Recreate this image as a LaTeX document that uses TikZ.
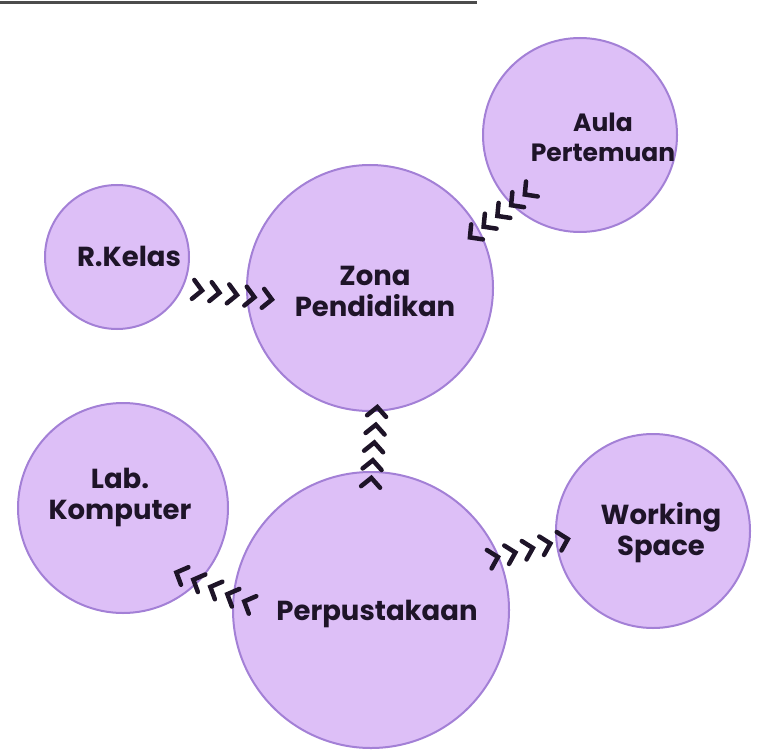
\documentclass[tikz,border=0pt]{standalone}
\usepackage{fontspec}
\setmainfont{Poppins}
\usepackage{tikz}
\usetikzlibrary{decorations.markings,calc}
\definecolor{roomfill}{HTML}{DDBFF7}
\definecolor{roomedge}{HTML}{A380D6}
\definecolor{ink}{HTML}{1E1428}

\begin{document}
\begin{tikzpicture}[x=1pt,y=-1pt,
    room/.style={circle, draw=roomedge, line width=2pt, fill=roomfill, inner sep=0pt},
    lbl/.style={align=center, text=ink, font=\bfseries\fontsize{27.5}{31}\selectfont},
    chev/.style={draw=ink, line width=4.5pt, line cap=round, line join=miter},
    chevrons/.style={decorate, decoration={markings,
        mark=at position 0.001 with {\draw[chev] (-5pt,9.5pt) -- (4pt,0pt) -- (-5pt,-9.5pt);},
        mark=at position 0.25 with {\draw[chev] (-5pt,9.5pt) -- (4pt,0pt) -- (-5pt,-9.5pt);},
        mark=at position 0.5 with {\draw[chev] (-5pt,9.5pt) -- (4pt,0pt) -- (-5pt,-9.5pt);},
        mark=at position 0.75 with {\draw[chev] (-5pt,9.5pt) -- (4pt,0pt) -- (-5pt,-9.5pt);},
        mark=at position 0.999 with {\draw[chev] (-5pt,9.5pt) -- (4pt,0pt) -- (-5pt,-9.5pt);}}}]
    \useasboundingbox (0,0) rectangle (767,751);
    \clip (0,0) rectangle (767,751);

    % garis atas
    \coordinate (top1) at (0,3);
    \coordinate (top2) at (477,3);
    \draw[line width=3pt, gray!60!black] (top1) -- (top2);

    % ruang-ruang
    \node[room, minimum size=194] (aula) at (580,135) {};
    \node[room, minimum size=144] (rkelas) at (117,257) {};
    \node[room, minimum size=246] (zona) at (370,288) {};
    \node[room, minimum size=210] (lab) at (123,508) {};
    \node[room, minimum size=276] (perpus) at (371,610) {};
    \node[room, minimum size=194] (working) at (653,531) {};

    % label
    \node[lbl, font=\bfseries\fontsize{25}{30}\selectfont] (aula-t) at (603,137) {Aula\\Pertemuan};
    \node[lbl] (rkelas-t) at (129,256) {R.Kelas};
    \node[lbl] (zona-t) at (375,291) {Zona\\Pendidikan};
    \node[lbl] (lab-t) at (120,497) {Lab.\\Komputer};
    \node[lbl] (perpus-t) at (377,614) {Perpustakaan};
    \node[lbl] (working-t) at (661,533) {Working\\Space};

    % panah chevron
    \coordinate (kz1) at (198,290);
    \coordinate (kz2) at (268,299);
    \coordinate (az1) at (528,192);
    \coordinate (az2) at (473,235);
    \coordinate (pz1) at (371,482);
    \coordinate (pz2) at (377,411);
    \coordinate (pw1) at (494,558);
    \coordinate (pw2) at (564,540);
    \coordinate (pl1) at (248,603);
    \coordinate (pl2) at (180,574);
    \path[chevrons] (kz1) -- (kz2);
    \path[chevrons] (az1) -- (az2);
    \path[chevrons] (pz1) -- (pz2);
    \path[chevrons] (pw1) -- (pw2);
    \path[chevrons] (pl1) -- (pl2);
\end{tikzpicture}
\end{document}
